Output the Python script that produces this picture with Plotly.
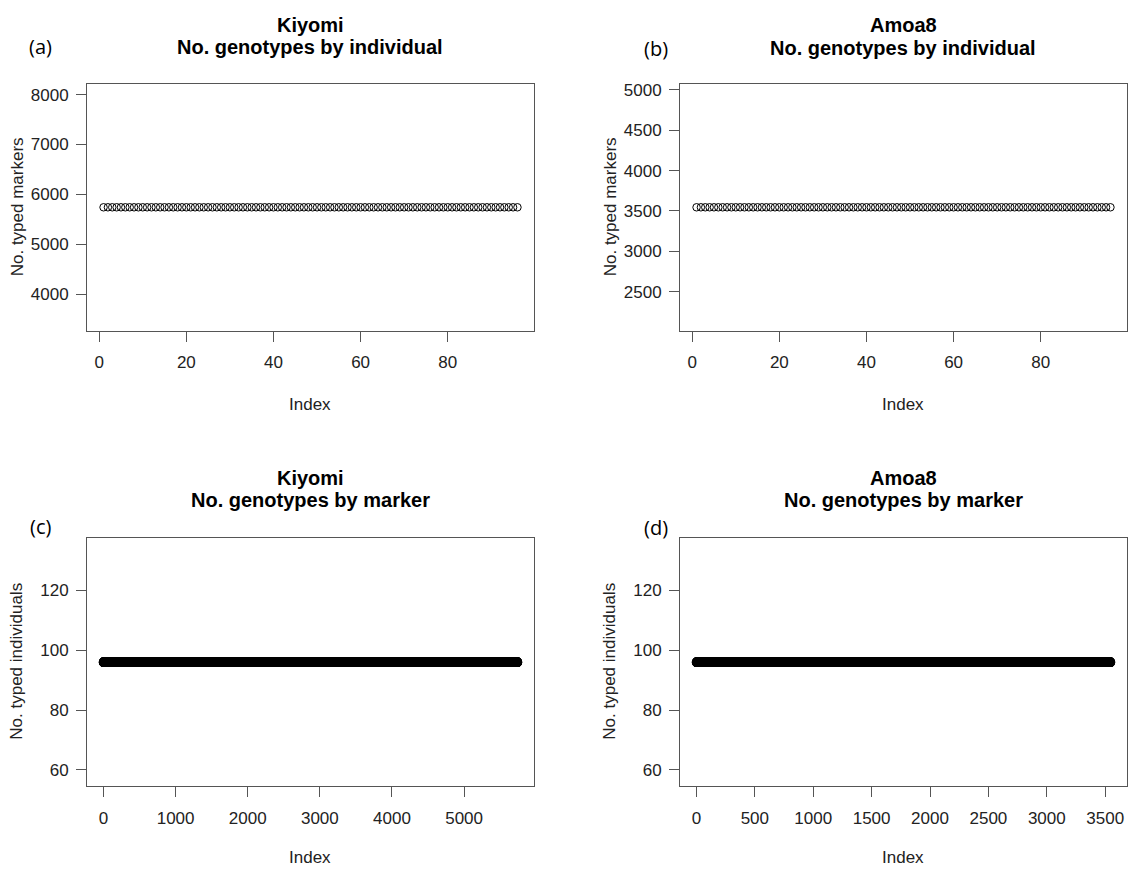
import plotly.graph_objects as go

# ---- data ----
n_individuals = 96
kiyomi_n_markers = 5740
amoa8_n_markers = 3545
kiyomi_typed_markers = [5740] * n_individuals      # (a) every individual typed at ~5740 markers
amoa8_typed_markers = [3545] * n_individuals       # (b) every individual typed at ~3545 markers
kiyomi_typed_individuals = [96] * kiyomi_n_markers  # (c) every marker typed in 96 individuals
amoa8_typed_individuals = [96] * amoa8_n_markers    # (d)

ticks_a_x = [0, 20, 40, 60, 80]
ticks_a_y = [4000, 5000, 6000, 7000, 8000]
ticks_b_y = [2500, 3000, 3500, 4000, 4500, 5000]
ticks_c_x = [0, 1000, 2000, 3000, 4000, 5000]
ticks_d_x = [0, 500, 1000, 1500, 2000, 2500, 3000, 3500]
ticks_cd_y = [60, 80, 100, 120]

W, H = 1133, 869
FONT = "Liberation Sans"
TXT = "#222222"
LINE = "#555555"


def r_range(vals):
    lo, hi = min(vals), max(vals)
    if lo == hi:
        lo, hi = lo * 0.6, hi * 1.4
    d = (hi - lo) * 0.04
    return [lo - d, hi + d]


def px(x):
    return x / W


def py(y):
    return 1 - y / H


fig = go.Figure()

panels = [
    dict(y=kiyomi_typed_markers, xd=(87, 534), yd=(81, 329), xt=ticks_a_x, yt=ticks_a_y, size=7.5, lw=1),
    dict(y=amoa8_typed_markers, xd=(680, 1127), yd=(81, 329), xt=ticks_a_x, yt=ticks_b_y, size=7.5, lw=1),
    dict(y=kiyomi_typed_individuals, xd=(87, 534), yd=(537, 786), xt=ticks_c_x, yt=ticks_cd_y, size=8.5, lw=1.2),
    dict(y=amoa8_typed_individuals, xd=(680, 1127), yd=(537, 786), xt=ticks_d_x, yt=ticks_cd_y, size=8.5, lw=1.2),
]

layout = {}
for i, p in enumerate(panels, start=1):
    xs = list(range(1, len(p["y"]) + 1))
    fig.add_trace(go.Scatter(
        x=xs, y=p["y"], mode="markers",
        marker=dict(symbol="circle-open", size=p["size"], color="black", line=dict(width=p["lw"], color="black")),
        xaxis=f"x{i}", yaxis=f"y{i}", showlegend=False, hoverinfo="skip",
    ))
    common = dict(showline=True, mirror=True, linecolor=LINE, linewidth=1, ticks="outside", ticklen=10,
                  tickcolor=LINE, tickwidth=1, showgrid=False, zeroline=False,
                  tickfont=dict(family=FONT, size=17, color=TXT))
    layout[f"xaxis{i}"] = dict(common, domain=[px(p["xd"][0]), px(p["xd"][1])], range=r_range(xs),
                              tickvals=p["xt"], anchor=f"y{i}", ticklabelstandoff=6)
    layout[f"yaxis{i}"] = dict(common, domain=[py(p["yd"][1]), py(p["yd"][0])], range=r_range(p["y"]),
                              tickvals=p["yt"], anchor=f"x{i}", ticklabelstandoff=4)

fig.update_layout(**layout)

ann = []


def add(text, x, y, size, bold=False, angle=0, family=FONT, color=TXT):
    ann.append(dict(text=f"<b>{text}</b>" if bold else text, x=px(x), y=py(y), xref="paper", yref="paper",
                    xanchor="center", yanchor="middle", showarrow=False, textangle=angle,
                    font=dict(family=family, size=size, color=color)))


titles = [("Kiyomi", "No. genotypes by individual", 310, 22, 44),
          ("Amoa8", "No. genotypes by individual", 903, 22, 45),
          ("Kiyomi", "No. genotypes by marker", 310, 477, 499),
          ("Amoa8", "No. genotypes by marker", 903, 477, 499)]
for t1, t2, cx, y1, y2 in titles:
    add(t1, cx, y1, 20, bold=True, color="black")
    add(t2, cx, y2, 20, bold=True, color="black")

for lab, x, y in [("(a)", 40, 44), ("(b)", 656, 46), ("(c)", 40, 525), ("(d)", 656, 526)]:
    add(lab, x, y, 20, family="Open Sans", color="black")

add("No. typed markers", 17, 205, 17, angle=-90)
add("No. typed markers", 610, 205, 17, angle=-90)
add("No. typed individuals", 17, 661, 17, angle=-90)
add("No. typed individuals", 610, 661, 17, angle=-90)
add("Index", 310, 403, 17)
add("Index", 903, 403, 17)
add("Index", 310, 857, 17)
add("Index", 903, 857, 17)

fig.update_layout(annotations=ann, width=W, height=H, margin=dict(l=0, r=0, t=0, b=0),
                  paper_bgcolor="white", plot_bgcolor="white")

fig.write_html("out.html")
